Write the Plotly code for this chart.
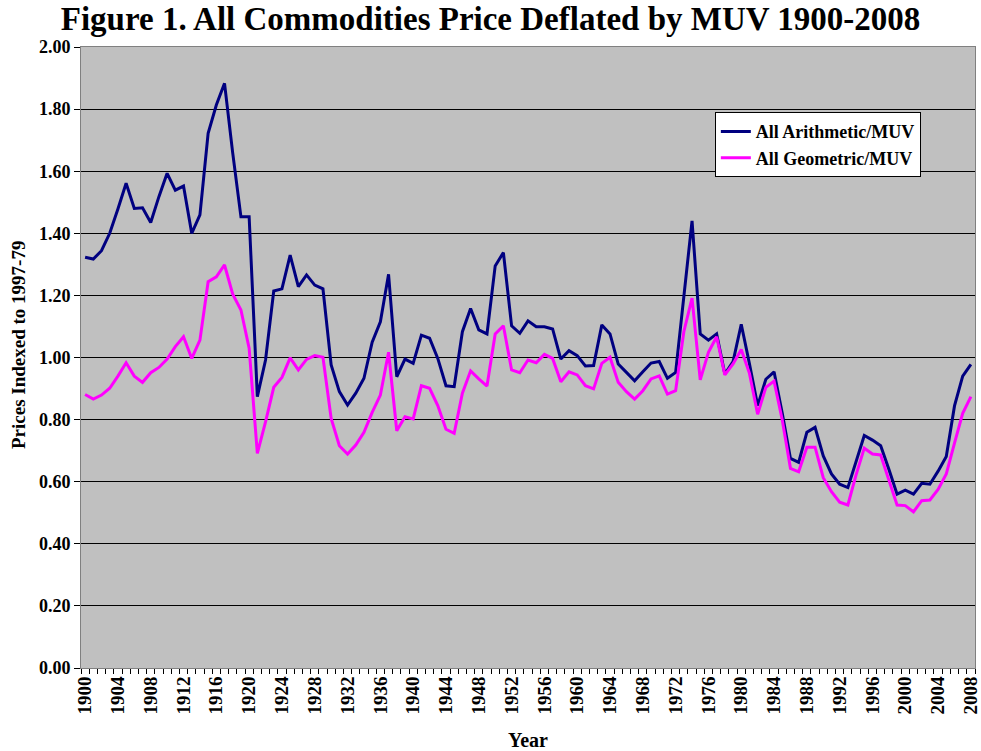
import plotly.graph_objects as go

years = list(range(1900, 2009))

arithmetic_muv = [
    1.323, 1.317, 1.344, 1.400, 1.478, 1.561, 1.480, 1.482, 1.435, 1.518,
    1.593, 1.539, 1.552, 1.400, 1.459, 1.722, 1.813, 1.883, 1.658, 1.453,
    1.453, 0.874, 0.992, 1.214, 1.221, 1.330, 1.228, 1.266, 1.233, 1.221,
    0.976, 0.890, 0.847, 0.885, 0.933, 1.049, 1.115, 1.268, 0.938, 0.995,
    0.981, 1.072, 1.062, 0.997, 0.909, 0.906, 1.083, 1.158, 1.089, 1.076,
    1.295, 1.338, 1.102, 1.078, 1.118, 1.099, 1.099, 1.092, 0.995, 1.022,
    1.006, 0.973, 0.974, 1.105, 1.076, 0.979, 0.952, 0.925, 0.954, 0.982,
    0.987, 0.933, 0.952, 1.196, 1.440, 1.076, 1.056, 1.076, 0.947, 0.987,
    1.107, 0.980, 0.845, 0.930, 0.954, 0.820, 0.675, 0.662, 0.759, 0.775,
    0.683, 0.625, 0.592, 0.581, 0.665, 0.749, 0.734, 0.716, 0.640, 0.560,
    0.573, 0.560, 0.595, 0.592, 0.634, 0.681, 0.844, 0.940, 0.978,
]

geometric_muv = [
    0.881, 0.866, 0.879, 0.901, 0.940, 0.983, 0.940, 0.920, 0.951, 0.968,
    0.995, 1.035, 1.067, 0.997, 1.056, 1.244, 1.260, 1.298, 1.204, 1.153,
    1.030, 0.691, 0.793, 0.904, 0.936, 0.999, 0.960, 0.994, 1.006, 1.001,
    0.804, 0.716, 0.689, 0.718, 0.759, 0.823, 0.879, 1.017, 0.764, 0.809,
    0.802, 0.909, 0.901, 0.845, 0.769, 0.756, 0.885, 0.957, 0.931, 0.908,
    1.076, 1.102, 0.960, 0.951, 0.992, 0.983, 1.010, 0.997, 0.922, 0.954,
    0.944, 0.909, 0.899, 0.981, 1.001, 0.920, 0.890, 0.866, 0.893, 0.931,
    0.941, 0.882, 0.893, 1.083, 1.191, 0.928, 1.017, 1.067, 0.944, 0.979,
    1.026, 0.949, 0.817, 0.904, 0.924, 0.799, 0.643, 0.632, 0.711, 0.711,
    0.613, 0.568, 0.534, 0.525, 0.622, 0.708, 0.689, 0.686, 0.605, 0.525,
    0.523, 0.503, 0.539, 0.541, 0.575, 0.625, 0.724, 0.820, 0.874,
]

x_tick_years = list(range(1900, 2009, 4))
y_tick_vals = [0.0, 0.2, 0.4, 0.6, 0.8, 1.0, 1.2, 1.4, 1.6, 1.8, 2.0]

FONT = "Liberation Serif"

fig = go.Figure()
fig.add_trace(go.Scatter(
    x=years, y=arithmetic_muv, mode="lines", name="All Arithmetic/MUV",
    line=dict(color="#000080", width=3),
))
fig.add_trace(go.Scatter(
    x=years, y=geometric_muv, mode="lines", name="All Geometric/MUV",
    line=dict(color="#FF00FF", width=3),
))

fig.update_layout(
    width=981, height=751,
    margin=dict(l=81, r=6, t=47, b=83, autoexpand=False),
    paper_bgcolor="white",
    plot_bgcolor="#C0C0C0",
    font=dict(family=FONT, color="black", weight="bold"),
    title=dict(
        text="Figure 1. All Commodities Price Deflated by MUV 1900-2008",
        font=dict(family=FONT, size=33, color="black", weight="bold"),
        xref="container", x=0.5, xanchor="center",
        yref="container", y=1 - 18 / 751, yanchor="middle",
    ),
    showlegend=True,
    legend=dict(
        x=0.709, y=0.895, xanchor="left", yanchor="top",
        bgcolor="white", bordercolor="black", borderwidth=1,
        font=dict(family=FONT, size=18, color="black", weight="bold"),
        tracegroupgap=0, itemwidth=30,
    ),
    xaxis=dict(
        range=[1899.5, 2008.5],
        tickmode="array", tickvals=x_tick_years,
        ticktext=[str(y) for y in x_tick_years],
        tickangle=-90,
        tickfont=dict(family=FONT, size=19, color="black", weight="bold"),
        ticklabeloverflow="allow",
        ticks="", showgrid=False, zeroline=False,
        showline=True, linecolor="#808080", linewidth=1, mirror=True,
        minor=dict(tick0=1899.5, dtick=1, ticks="outside", ticklen=5,
                   tickcolor="black", showgrid=False),
        automargin=False,
    ),
    yaxis=dict(
        range=[0, 2.0],
        tickmode="array", tickvals=y_tick_vals,
        ticktext=[f"{v:.2f}" for v in y_tick_vals],
        tickfont=dict(family=FONT, size=18, color="black", weight="bold"),
        ticks="outside", ticklen=6, tickcolor="black",
        showgrid=True, gridcolor="black", gridwidth=1,
        zeroline=False,
        showline=True, linecolor="#808080", linewidth=1, mirror=True,
        automargin=False,
    ),
    annotations=[
        dict(text="Year", xref="paper", yref="paper",
             x=0.5, y=-(740 - 668) / 621, xanchor="center", yanchor="middle",
             showarrow=False,
             font=dict(family=FONT, size=20, color="black", weight="bold")),
        dict(text="Prices Indexed to 1997-79", xref="paper", yref="paper",
             x=(18 - 81) / 894, y=(668 - 345) / 621, xanchor="center", yanchor="middle",
             textangle=-90, showarrow=False,
             font=dict(family=FONT, size=19, color="black", weight="bold")),
    ],
)

fig.write_html("out.html",
               config={"displayModeBar": False},
               post_script="document.body.style.margin='0';document.body.style.padding='0';")
